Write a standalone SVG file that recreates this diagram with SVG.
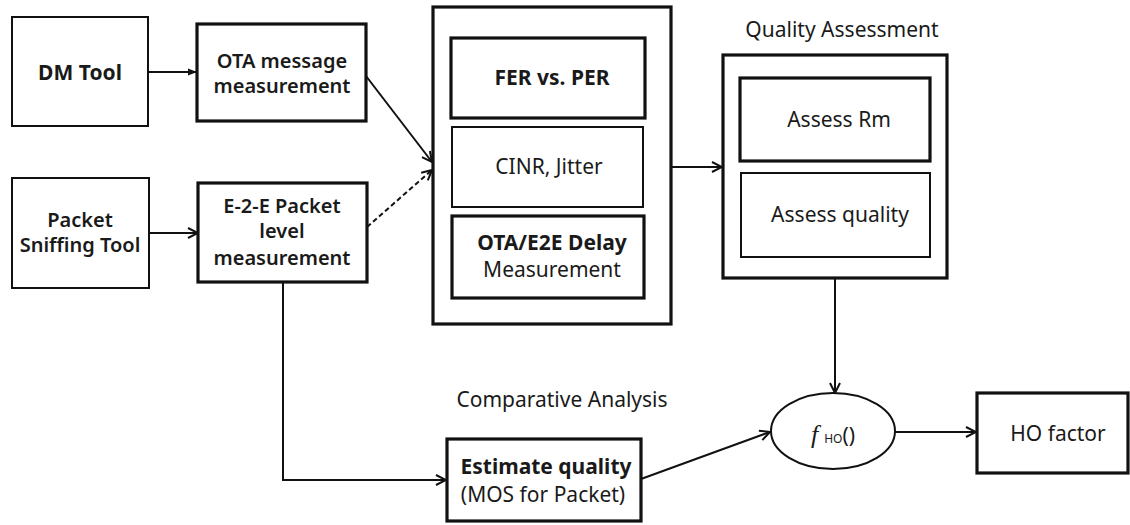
<svg xmlns="http://www.w3.org/2000/svg" width="1130" height="525" viewBox="0 0 1130 525">
<style>
.t{font-family:"Noto Sans","Open Sans",sans-serif;font-size:21px;fill:#1a1a1a;text-anchor:middle}
.s{font-size:20px}
.b{font-weight:bold}
.m{font-weight:600}
.thin{fill:#fff;stroke:#111;stroke-width:2}
.thick{fill:#fff;stroke:#111;stroke-width:3.2}
.c{fill:none;stroke:#111;stroke-width:2}
</style>
<defs>
<marker id="open" viewBox="0 0 12 12" refX="11" refY="6" markerWidth="12" markerHeight="12" markerUnits="userSpaceOnUse" orient="auto">
<path d="M1,1 L11,6 L1,11" fill="none" stroke="#111" stroke-width="2"/>
</marker>
<marker id="fill" viewBox="0 0 10 10" refX="10" refY="5" markerWidth="9" markerHeight="9" markerUnits="userSpaceOnUse" orient="auto">
<path d="M0,1 L10,5 L0,9 Z" fill="#111"/>
</marker>
</defs>
<rect width="1130" height="525" fill="#fff"/>

<g id="dm-tool">
<rect class="thin" x="12" y="17" width="136" height="109"/>
<text class="t b" x="80" y="80">DM Tool</text>
</g>
<g id="ota-msg">
<rect class="thick" x="197" y="24" width="169" height="97"/>
<text class="t s m" x="282" y="68">OTA message</text>
<text class="t s m" x="282" y="93">measurement</text>
</g>
<g id="sniff">
<rect class="thin" x="12" y="178" width="137" height="110"/>
<text class="t s m" x="80" y="227">Packet</text>
<text class="t s m" x="80" y="252">Sniffing Tool</text>
</g>
<g id="e2e">
<rect class="thick" x="198" y="183" width="169" height="99"/>
<text class="t s m" x="282" y="213">E-2-E Packet</text>
<text class="t s m" x="282" y="238">level</text>
<text class="t s m" x="282" y="265">measurement</text>
</g>
<g id="metrics">
<rect class="thick" x="433" y="7" width="238" height="317"/>
<g id="fer">
<rect class="thick" x="451" y="38" width="194" height="80"/>
<text class="t b" x="552" y="85">FER vs. PER</text>
</g>
<g id="cinr">
<rect class="thin" x="452" y="127" width="191" height="80"/>
<text class="t" x="549" y="174">CINR, Jitter</text>
</g>
<g id="delay">
<rect class="thick" x="452" y="216" width="192" height="82"/>
<text class="t b" x="552" y="250">OTA/E2E Delay</text>
<text class="t" x="552" y="277">Measurement</text>
</g>
</g>
<g id="quality-assessment">
<text class="t" x="842" y="37">Quality Assessment</text>
<rect class="thick" x="723" y="55" width="224" height="223"/>
<g id="assess-rm">
<rect class="thick" x="740" y="78" width="190" height="83"/>
<text class="t" x="839" y="127">Assess Rm</text>
</g>
<g id="assess-quality">
<rect class="thin" x="741" y="173" width="189" height="84"/>
<text class="t" x="840" y="222">Assess quality</text>
</g>
</g>
<g id="comparative">
<text class="t" x="562" y="407">Comparative Analysis</text>
<rect class="thick" x="447" y="439" width="194" height="82"/>
<text class="t b" x="546" y="474">Estimate quality</text>
<text class="t" x="543" y="502">(MOS for Packet)</text>
</g>
<g id="fho">
<ellipse cx="833" cy="431" rx="62" ry="38" fill="#fff" stroke="#111" stroke-width="2"/>
<text class="t" x="833" y="443"><tspan font-family="'Liberation Serif',serif" font-style="italic" font-size="26">f</tspan><tspan font-size="12" dx="6">HO</tspan><tspan>()</tspan></text>
</g>
<g id="ho-factor">
<rect class="thick" x="977" y="393" width="151" height="80"/>
<text class="t" x="1058" y="441">HO factor</text>
</g>

<g id="connectors">
<line class="c" x1="148" y1="72" x2="197" y2="72" marker-end="url(#fill)"/>
<line class="c" x1="149" y1="233" x2="198" y2="233" marker-end="url(#open)"/>
<line class="c" x1="366" y1="76" x2="432" y2="162" marker-end="url(#open)"/>
<line class="c" x1="367" y1="227" x2="432" y2="170" stroke-dasharray="5,3" marker-end="url(#open)"/>
<line class="c" x1="671" y1="167" x2="722" y2="167" stroke-width="1.5" marker-end="url(#open)"/>
<line class="c" x1="835" y1="278" x2="835" y2="393" marker-end="url(#open)"/>
<polyline class="c" points="283,282 283,480 446,480" marker-end="url(#open)"/>
<line class="c" x1="641" y1="479" x2="770" y2="432" marker-end="url(#open)"/>
<line class="c" x1="895" y1="432" x2="976" y2="432" marker-end="url(#open)"/>
</g>
</svg>
